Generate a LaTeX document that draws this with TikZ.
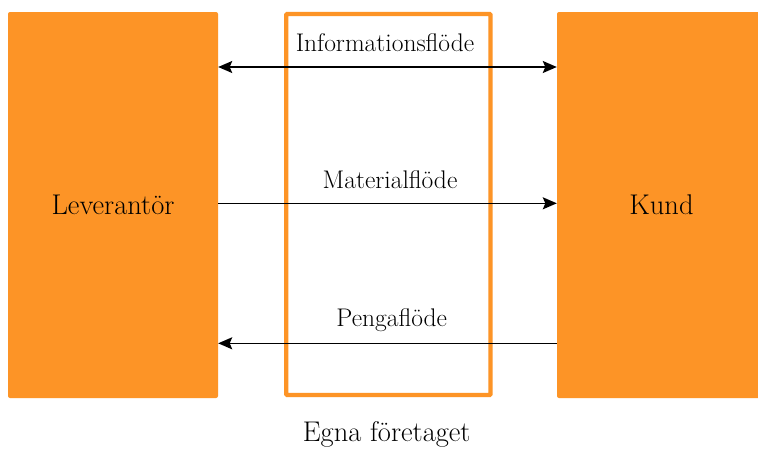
\documentclass[tikz,border=0pt]{standalone}
\usetikzlibrary{arrows.meta}
\definecolor{boxorange}{HTML}{FD9426}
\tikzset{
  party/.style={fill=boxorange, draw=none, rounded corners=2pt, inner sep=0pt,
    font=\fontsize{28.5}{32}\selectfont},
  flow/.style={line width=1.5pt, draw=black},
  flowtip/.style={-{Stealth[length=14pt,width=12pt,inset=2.5pt]}},
  flowlabel/.style={anchor=base, font=\fontsize{25.5}{30}\selectfont, inner sep=0pt},
  firm/.style={draw=boxorange, line width=4.4pt, fill=none, rounded corners=1pt}
}
\begin{document}
\begin{tikzpicture}[x=1pt,y=-1pt]
\useasboundingbox[fill=white] (0,0) rectangle (758,448);
% boxes
\node[party, minimum width=210pt, minimum height=386pt] (lev) at (113,205) {Leverantör};
\node[party, minimum width=209pt, minimum height=386pt] (kund) at (661.5,205) {Kund};
\draw[firm] (286.2,14) rectangle (490.5,395);
% anchor coordinates for flows
\coordinate (yi) at (0,67);
\coordinate (ym) at (0,203.3);
\coordinate (yp) at (0,343.3);
\draw[flow, {Stealth[length=14pt,width=12pt,inset=2.5pt]}-{Stealth[length=14pt,width=12pt,inset=2.5pt]}] (lev.east |- yi) -- (kund.west |- yi);
\draw[flow, flowtip] (lev.east |- ym) -- (kund.west |- ym);
\draw[flow, flowtip] (kund.west |- yp) -- (lev.east |- yp);
% labels
\node[flowlabel] (info) at (385,51.7) {Informationsflöde};
\node[flowlabel] (mat) at (390,188.3) {Materialflöde};
\node[flowlabel] (peng) at (391.7,326.7) {Pengaflöde};
\node[anchor=base, inner sep=0pt, font=\fontsize{28.5}{32}\selectfont] (egna) at (386.7,441) {Egna företaget};
\end{tikzpicture}
\end{document}
